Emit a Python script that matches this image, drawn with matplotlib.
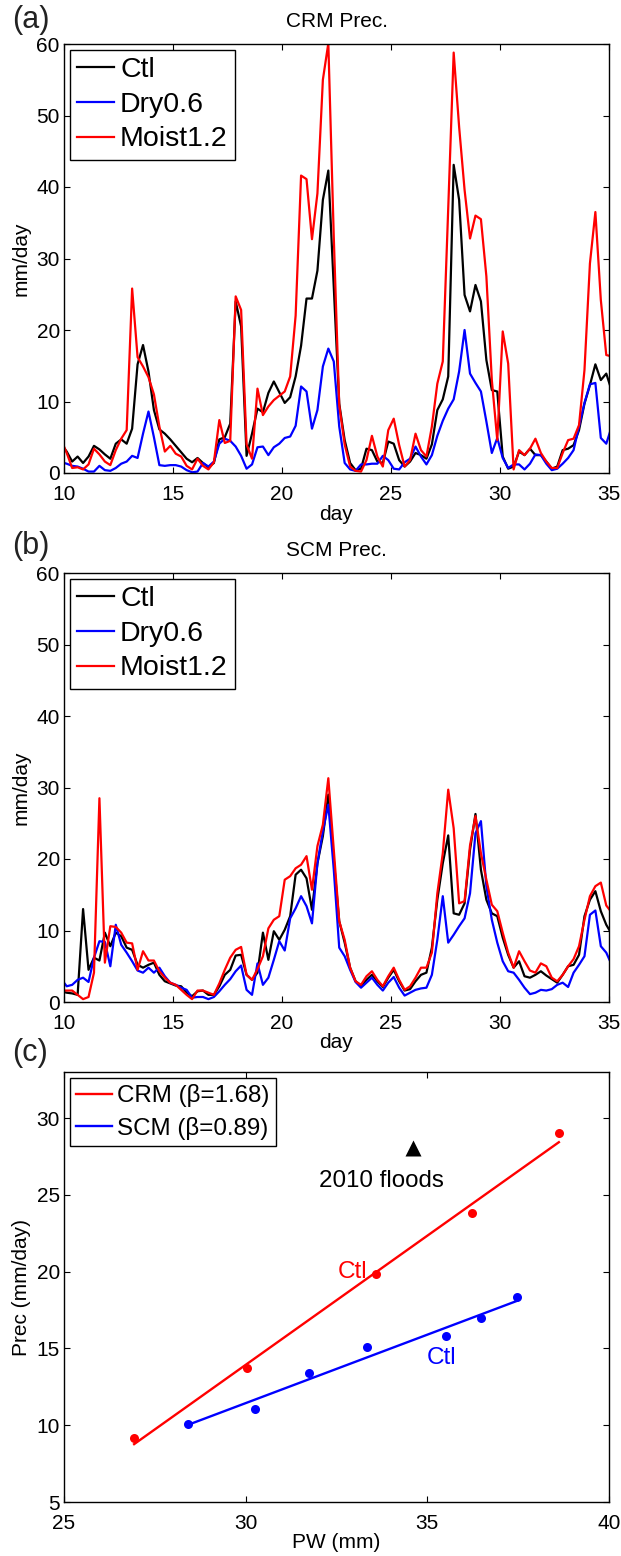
import numpy as np
import matplotlib
matplotlib.use("Agg")
import matplotlib.pyplot as plt

plt.rcParams["font.family"] = ["Liberation Sans", "DejaVu Sans"]

# 6-hourly means plotted at interval centres, one sample either side of the
# day 10-35 window so the curves run to the axes edges
days = np.arange(9.875, 35.2, 0.25)

# (a) CRM precipitation, mm/day
crm_ctl = [
    4.0, 3.0, 1.6, 2.3, 1.4, 2.3, 3.8, 3.3, 2.6, 2.0,
    4.1, 4.7, 4.1, 6.2, 15.2, 17.9, 14.2, 8.8, 6.1, 5.5,
    4.7, 3.8, 2.9, 2.0, 1.5, 2.1, 1.4, 0.8, 1.4, 4.7,
    5.0, 6.9, 24.0, 20.5, 2.4, 5.5, 9.0, 8.5, 11.2, 12.8,
    11.3, 9.8, 10.6, 13.5, 17.8, 24.4, 24.4, 28.3, 38.2, 42.3,
    26.0, 9.7, 4.6, 1.4, 0.4, 0.6, 3.4, 3.2, 1.6, 1.4,
    4.4, 4.1, 1.8, 0.9, 1.6, 2.8, 2.5, 2.0, 4.0, 8.8,
    10.3, 13.5, 43.1, 38.2, 24.9, 22.6, 26.3, 24.0, 15.8, 11.6,
    11.4, 2.3, 0.6, 0.9, 3.0, 2.5, 3.4, 2.5, 2.5, 1.6,
    0.6, 0.9, 3.2, 3.4, 3.9, 6.0, 9.7, 12.3, 15.2, 13.0,
    13.9, 11.5,
]
crm_dry = [
    1.5, 1.3, 1.0, 0.9, 0.6, 0.2, 0.2, 1.0, 0.4, 0.3,
    0.7, 1.3, 1.6, 2.4, 2.1, 5.5, 8.6, 5.0, 1.1, 1.0,
    1.1, 1.1, 0.9, 0.4, 0.1, 0.2, 1.4, 0.9, 1.6, 4.1,
    4.8, 4.5, 3.7, 2.4, 0.6, 1.2, 3.6, 3.7, 2.5, 3.6,
    4.1, 4.9, 5.1, 6.6, 12.1, 11.4, 6.2, 8.8, 14.9, 17.4,
    15.6, 6.5, 1.4, 0.5, 0.3, 1.2, 1.2, 1.3, 1.3, 2.4,
    1.8, 0.6, 0.5, 1.5, 2.0, 3.7, 2.3, 1.2, 2.5, 5.2,
    7.3, 9.0, 10.3, 14.2, 20.0, 13.9, 12.6, 11.4, 7.2, 2.8,
    4.9, 2.1, 0.7, 1.2, 1.2, 0.5, 1.3, 2.6, 2.5, 1.3,
    0.4, 0.6, 1.3, 2.1, 3.2, 6.5, 9.8, 12.4, 12.6, 4.9,
    4.1, 6.5,
]
crm_moist = [
    4.6, 2.8, 0.7, 0.8, 0.5, 1.2, 3.4, 2.6, 1.6, 1.1,
    3.2, 4.8, 6.0, 25.8, 16.2, 14.9, 13.4, 11.0, 6.5, 3.0,
    3.8, 2.7, 2.3, 1.0, 0.5, 2.0, 1.0, 0.5, 1.5, 7.4,
    4.2, 4.5, 24.7, 22.8, 4.0, 2.0, 11.8, 8.1, 9.3, 10.2,
    10.8, 11.4, 13.5, 22.0, 41.6, 41.1, 32.7, 39.1, 55.0, 60.1,
    33.0, 9.5, 4.0, 0.9, 0.3, 0.2, 1.8, 5.2, 2.3, 0.9,
    6.0, 7.6, 3.9, 0.9, 1.8, 5.5, 3.2, 2.3, 6.5, 12.5,
    15.6, 37.0, 58.8, 48.4, 39.6, 32.8, 36.0, 35.5, 27.5, 13.0,
    4.6, 19.8, 15.3, 0.5, 3.2, 2.5, 3.4, 4.8, 2.8, 1.6,
    0.7, 0.7, 2.8, 4.6, 4.8, 6.7, 14.4, 29.3, 36.5, 24.2,
    16.5, 16.3,
]

# (b) SCM precipitation, mm/day
scm_ctl = [
    1.5, 1.3, 1.2, 1.0, 13.0, 4.5, 6.2, 5.8, 9.7, 7.8,
    9.7, 9.2, 7.6, 7.3, 5.2, 4.8, 5.2, 5.5, 3.8, 2.9,
    2.6, 2.3, 2.2, 1.3, 0.8, 1.5, 1.6, 1.0, 1.0, 2.2,
    3.8, 4.5, 6.5, 6.6, 3.8, 3.1, 4.1, 9.7, 5.9, 9.9,
    8.7, 10.1, 12.0, 17.8, 18.5, 17.3, 12.9, 19.4, 23.2, 29.0,
    19.9, 11.3, 8.3, 4.8, 2.9, 2.2, 3.1, 3.8, 2.9, 2.1,
    3.4, 4.5, 2.9, 1.6, 1.8, 2.9, 3.8, 4.1, 7.6, 14.3,
    19.4, 23.3, 12.4, 12.2, 13.8, 21.3, 26.3, 18.5, 14.3, 12.4,
    12.0, 9.0, 6.6, 4.8, 5.7, 3.6, 3.4, 3.8, 4.3, 3.7,
    3.2, 2.7, 3.8, 5.0, 5.2, 6.6, 12.0, 14.3, 15.5, 12.7,
    10.8, 9.5,
]
scm_dry = [
    3.2, 2.2, 2.4, 3.1, 3.4, 2.8, 6.2, 8.5, 8.4, 5.0,
    10.8, 8.0, 6.9, 5.7, 4.4, 4.1, 4.8, 4.1, 4.8, 3.6,
    2.7, 2.4, 2.0, 1.7, 0.6, 0.7, 0.7, 0.4, 0.7, 1.5,
    2.4, 3.2, 4.3, 5.1, 1.7, 1.0, 5.4, 2.4, 3.4, 5.9,
    8.5, 7.2, 11.7, 13.1, 14.8, 13.4, 11.0, 19.4, 23.9, 27.6,
    18.5, 7.6, 6.4, 4.5, 2.8, 2.0, 2.7, 3.4, 2.4, 1.6,
    2.7, 3.5, 2.0, 0.9, 1.3, 1.7, 1.9, 2.0, 3.8, 8.7,
    14.8, 8.3, 9.4, 10.6, 11.7, 15.2, 23.6, 25.3, 16.2, 11.5,
    8.3, 5.7, 4.3, 4.1, 3.1, 2.0, 1.1, 1.3, 1.7, 1.6,
    1.8, 2.4, 2.7, 2.1, 4.1, 5.2, 6.4, 12.2, 12.8, 7.8,
    6.9, 5.2,
]
scm_moist = [
    1.6, 1.6, 1.6, 1.0, 0.4, 0.7, 4.1, 28.5, 5.5, 10.6,
    10.5, 9.7, 8.3, 8.2, 4.5, 7.1, 5.8, 5.8, 4.3, 3.4,
    2.7, 2.4, 1.7, 1.0, 0.4, 1.6, 1.6, 1.3, 1.0, 2.6,
    4.5, 6.2, 7.3, 7.7, 3.8, 3.1, 4.6, 6.4, 10.3, 11.5,
    12.0, 17.1, 17.6, 18.7, 19.2, 20.4, 15.7, 21.8, 24.8, 31.3,
    21.3, 11.3, 8.7, 4.8, 2.9, 2.4, 3.6, 4.3, 3.1, 2.2,
    3.6, 4.8, 3.1, 1.7, 2.2, 3.4, 4.8, 4.8, 6.9, 15.2,
    20.8, 29.7, 24.3, 13.8, 14.1, 21.9, 26.0, 20.8, 17.1, 13.6,
    12.7, 9.7, 6.9, 4.8, 7.1, 5.7, 4.4, 4.1, 5.4, 5.0,
    3.4, 2.9, 3.8, 5.0, 6.0, 7.8, 11.5, 14.8, 16.2, 16.7,
    13.5, 12.5,
]

# (c) mean precipitation vs precipitable water
crm_pw = [26.93, 30.05, 33.59, 36.23, 38.62]
crm_prec = [9.16, 13.70, 19.87, 23.83, 29.03]
scm_pw = [28.40, 30.26, 31.74, 33.35, 35.51, 36.49, 37.47]
scm_prec = [10.08, 11.08, 13.38, 15.07, 15.84, 16.97, 18.35]
flood_pw = 34.6
flood_prec = 28.05

for s in (crm_ctl, crm_dry, crm_moist, scm_ctl, scm_dry, scm_moist):
    assert len(s) == len(days)

W, H = 621, 1556
fig = plt.figure(figsize=(W / 100, H / 100), dpi=100)


def box(top, bottom):
    return [64 / W, 1 - bottom / H, 545 / W, (bottom - top) / H]


def matlab_axes(ax):
    ax.tick_params(direction="in", length=4, width=0.8, top=True, right=True,
                   labelsize=15)
    ax.tick_params(axis="y", pad=3)
    # push the x labels down a little so "10" clears the y axis "0"
    ax.tick_params(axis="x", pad=8.5)
    for sp in ax.spines.values():
        sp.set_linewidth(1.0)


def precip_panel(ax, ctl, dry, moist, title):
    ax.plot(days, ctl, color="black", lw=1.6, label="Ctl")
    ax.plot(days, dry, color="blue", lw=1.6, label="Dry0.6")
    ax.plot(days, moist, color="red", lw=1.6, label="Moist1.2")
    ax.set_xlim(10, 35)
    ax.set_ylim(0, 60)
    ax.set_xticks([10, 15, 20, 25, 30, 35])
    ax.set_yticks([0, 10, 20, 30, 40, 50, 60])
    ax.set_title(title, fontsize=15, pad=12)
    ax.set_xlabel("day", fontsize=15, labelpad=0.5)
    ax.set_ylabel("mm/day", fontsize=15, labelpad=4)
    matlab_axes(ax)
    leg = ax.legend(loc="upper left", fontsize=20.5, fancybox=False, framealpha=1,
                    edgecolor="black", borderpad=0.25, labelspacing=0.3,
                    handlelength=1.3, handletextpad=0.2, borderaxespad=0.22)
    leg.get_frame().set_linewidth(1.0)


ax_a = fig.add_axes(box(44, 473))
precip_panel(ax_a, crm_ctl, crm_dry, crm_moist, "CRM Prec.")

ax_b = fig.add_axes(box(573, 1002))
precip_panel(ax_b, scm_ctl, scm_dry, scm_moist, "SCM Prec.")

ax_c = fig.add_axes(box(1072, 1502))
crm_fit = np.polyfit(crm_pw, crm_prec, 1)
scm_fit = np.polyfit(scm_pw, scm_prec, 1)
crm_x = np.array([min(crm_pw), max(crm_pw)])
scm_x = np.array([min(scm_pw), max(scm_pw)])
ax_c.plot(crm_x, np.polyval(crm_fit, crm_x), color="red", lw=1.7,
          label="CRM (\u03b2=1.68)")
ax_c.plot(scm_x, np.polyval(scm_fit, scm_x), color="blue", lw=1.7,
          label="SCM (\u03b2=0.89)")
ax_c.plot(crm_pw, crm_prec, "o", color="red", ms=6.5, mec="none")
ax_c.plot(scm_pw, scm_prec, "o", color="blue", ms=6.5, mec="none")
ax_c.plot([flood_pw], [flood_prec], "^", color="black", ms=11, mec="none")
ax_c.text(33.75, 25.9, "2010 floods", fontsize=17.4, ha="center", va="center")
ax_c.text(32.93, 20.0, "Ctl", fontsize=17.6, color="red", ha="center", va="center")
ax_c.text(35.4, 14.4, "Ctl", fontsize=17.6, color="blue", ha="center", va="center")
ax_c.set_xlim(25, 40)
ax_c.set_ylim(5, 33)
ax_c.set_xticks([25, 30, 35, 40])
ax_c.set_yticks([5, 10, 15, 20, 25, 30])
ax_c.set_xlabel("PW (mm)", fontsize=15, labelpad=0.5)
ax_c.set_ylabel("Prec (mm/day)", fontsize=15, labelpad=4)
matlab_axes(ax_c)
leg = ax_c.legend(loc="upper left", fontsize=17.4, fancybox=False, framealpha=1,
                  edgecolor="black", borderpad=0.25, labelspacing=0.4,
                  handlelength=1.5, handletextpad=0.2, borderaxespad=0.25)
leg.get_frame().set_linewidth(1.0)

# "(a)" sits a touch higher so it clears the "60" tick label
for label, y in (("(a)", 20), ("(b)", 546), ("(c)", 1053)):
    fig.text(12 / W, 1 - y / H, label, fontsize=22, color="#222222",
             ha="left", va="center")

fig.savefig("out.png", dpi=100)
